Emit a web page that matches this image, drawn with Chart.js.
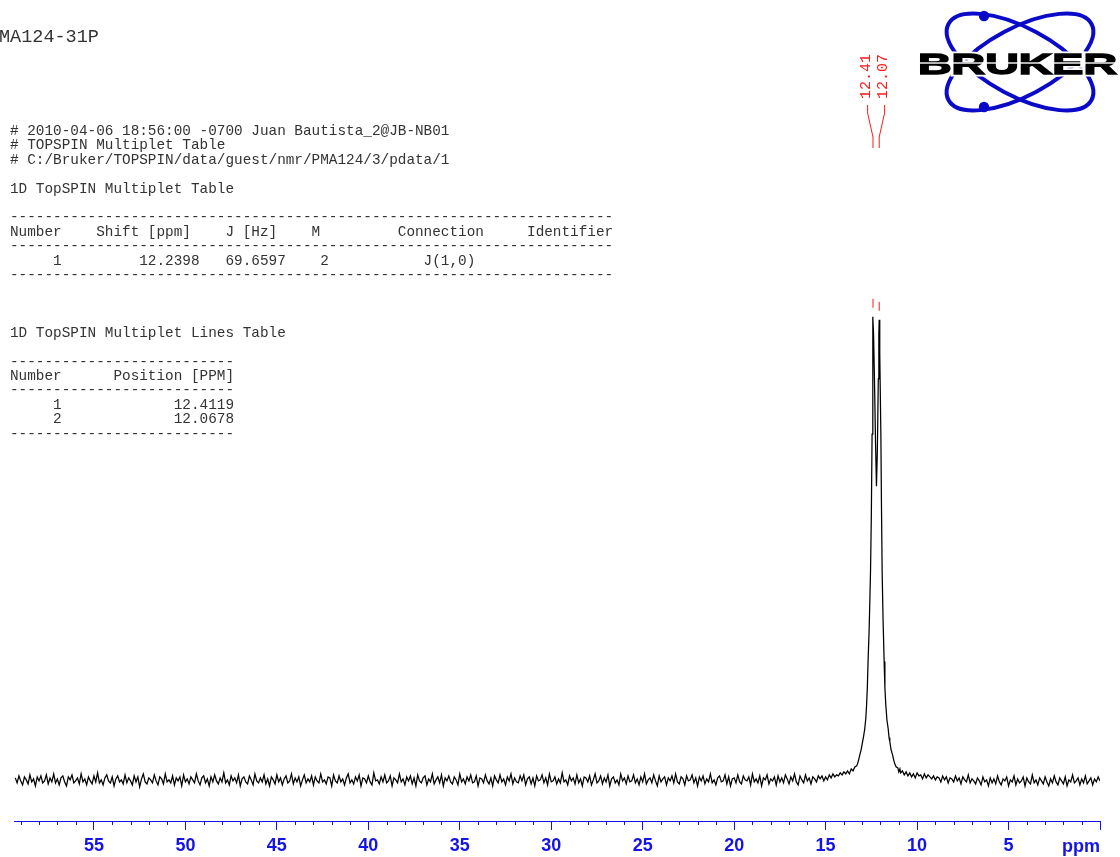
<!DOCTYPE html>
<html><head><meta charset="utf-8">
<script src="https://cdn.jsdelivr.net/npm/chart.js@4.4.0/dist/chart.umd.min.js"></script>
<style>
html,body{margin:0;padding:0;background:#fff;width:1120px;height:857px;overflow:hidden;position:relative}
#c{position:absolute;left:0;top:0}
.mono{font-family:"Liberation Mono","Courier New",monospace;color:#333;position:absolute;margin:0;white-space:pre}
#title{left:-1px;top:29px;font-size:18.5px;line-height:18.5px}
#info{left:10px;top:124px;font-size:14.37px;line-height:14.4px}
#logo{position:absolute;left:0;top:0}
</style></head><body>
<canvas id="c" width="1120" height="862"></canvas>
<div id="title" class="mono">MA124-31P</div>
<pre id="info" class="mono"></pre>
<svg id="logo" width="1120" height="130" xmlns="http://www.w3.org/2000/svg">
  <g transform="translate(1020,62)" fill="none" stroke="#0a0ac8" stroke-width="4">
    <ellipse cx="0" cy="0" rx="81" ry="34" transform="rotate(28)"/>
    <ellipse cx="0" cy="0" rx="81" ry="34" transform="rotate(-28)"/>
  </g>
  <circle cx="984" cy="16" r="5.2" fill="#0a0ac8"/>
  <circle cx="984" cy="107" r="5.2" fill="#0a0ac8"/>
  <text x="918" y="74" font-family="Liberation Sans" font-weight="bold" font-size="29" textLength="199" lengthAdjust="spacingAndGlyphs" fill="#fff" stroke="#fff" stroke-width="5">BRUKER</text>
  <text x="918" y="74" font-family="Liberation Sans" font-weight="bold" font-size="29" textLength="199" lengthAdjust="spacingAndGlyphs" fill="#000" stroke="#000" stroke-width="1.4">BRUKER</text>
  <rect x="916" y="62.3" width="203" height="1.4" fill="#fff"/>
</svg>
<script>
// ---------- table texts ----------
const headerLines = [
  "# 2010-04-06 18:56:00 -0700 Juan Bautista_2@JB-NB01",
  "# TOPSPIN Multiplet Table",
  "# C:/Bruker/TOPSPIN/data/guest/nmr/PMA124/3/pdata/1"
];
const multipletHeader = "Number    Shift [ppm]    J [Hz]    M         Connection     Identifier";
const multipletRows = ["     1         12.2398   69.6597    2           J(1,0)"];
const linesHeader = "Number      Position [PPM]";
const linesRows = ["     1             12.4119", "     2             12.0678"];

// ---------- spectrum data (ppm, intensity a.u.) ----------
const leftStart = 59.3, leftEnd = 13.9;
const leftNoise = [
 2,-3,4,-1,-5,3,0,-4,5,-2,1,-6,3,-1,4,-3,-1,5,-4,2,
 -2,6,-3,1,-5,2,4,-2,-6,3,0,5,-3,-1,2,-4,6,-2,1,-5,
 3,-1,-4,4,-2,7,-3,0,-5,2,5,-1,-3,3,-6,1,4,-2,0,-4,
 5,-3,2,-1,-5,4,-2,3,-7,1,6,-2,-4,2,0,-3,5,-1,-5,3,
 1,-4,6,-2,0,-3,4,-5,2,-1,3,-6,5,-2,1,-4,3,0,-3,6,
 -1,-5,2,4,-3,1,-6,3,-2,5,-1,-4,2,-2,7,-3,0,-5,4,-1,
 2,-3,5,-6,1,3,-2,-4,4,0,-5,6,-1,-3,2,-2,5,-4,1,-6,
 3,0,-4,5,-2,2,-5,1,4,-3,-1,6,-4,2,-2,3,-6,0,5,-3,
 1,-2,4,-5,3,-1,-3,6,-2,0,-4,3,2,-6,5,-1,-3,4,-2,1,
 -5,2,6,-3,0,-4,3,-1,5,-6,2,1,-3,4,-2,-5,7,-1,0,-4,
 3,-2,5,-3,-1,4,-6,2,0,-3,6,-2,1,-5,3,-1,4,-4,2,-6,
 5,-1,-3,2,4,-5,1,-2,6,-4,0,3,-3,5,-6,2,-1,4,-2,-4,
 3,0,-5,6,-2,1,-4,3,-1,5,-3,-2,4,-6,2,1,-3,5,-1,-4,
 2,-6,4,0,-3,5,-2,1,-5,3,-1,6,-4,2,-2,-3,4,-1,5,-5,
 1,3,-4,2,-6,4,-1,0,5,-3,2,-5,6,-2,-1,3,-4,1,-3,7,
 -2,0,-5,4,-1,2,-4,5,-3,1,-6,3,2,-2,4,-5,0,6,-3,-1,
 4,-4,2,-2,5,-6,1,3,-3,0,-5,6,-1,2,-4,4,-2,-1,5,-3,
 1,-5,3,-2,6,-4,0,2,-3,5,-1,-6,4,-2,1,3,-5,2,-1,4,
 -3,6,-2,-4,3,1,-5,4,-1,0,5,-3,2,-6,3,-1,4,-4,1,-2,
 6,-3,0,-5,2,4,-2,-1,5,-4,3,-6,1,2,-3,5,-2,-4,4,0,
 -1,3,-5,6,-2,1,-3,4,-6,2,0,5,-4,1,-1,3,-5,4,-2,2,
 -3,5,1,-4,3,-1,6,-2,-5,4,0,-3,5,-1,2,-4,3,1,-2,4,
 1,4,-1,3,0,5,2,6,3,5,4,7,5,8,6
];
const peakPpm = [13.8,13.7,13.6,13.5,13.4,13.3,13.24,13.18,13.13,13.06,12.98,12.92,12.86,12.80,12.76,12.72,12.68,12.62,12.545,12.50,12.46,12.43,12.41,12.38,12.33,12.27,12.22,12.17,12.12,12.09,12.07,12.04,11.98,11.95,11.91,11.86,11.80,11.76,11.71,11.65,11.58,11.53,11.49,11.42,11.34,11.28,11.22,11.15,11.05,11.0,10.94,10.9];
const peakInt = [9,6,11,9,13,14,17,21,25,30,38,44,51,62,75,92,118,150,208,265,345,415,462,445,400,335,293,330,400,445,459,425,345,280,208,160,118,92,75,60,51,42,38,30,25,20,16,13,12,8,11,7];
const rightStart = 10.8, rightEnd = 0.0;
const rightNoise = [
 9,5,8,4,7,3,6,2,7,4,5,1,6,2,5,3,1,4,0,3,
 2,-2,4,0,3,-3,2,1,-2,4,-1,2,-4,3,0,-2,5,-3,1,-1,
 -4,2,-1,-5,3,-2,0,-6,2,-3,1,-4,4,-2,-5,1,-1,3,-6,0,
 -2,4,-5,1,-3,-1,3,-6,2,-2,-4,5,-3,0,-5,2,-1,-4,3,-2,
 -6,1,-3,4,-2,-5,2,-1,-4,3,-6,0,-2,5,-3,-1,2,-5,1,-3,
 4,-4,-1,2,-5,1,-2,3,-1
];

// ---------- peak annotations ----------
const peakLabels = ["12.41", "12.07"];
const peakPositions = [12.41, 12.07];
const peakHeights = [462, 459];

// ---------- axis ----------
const axisMin = 0, axisMax = 59.37, majorStep = 5, minorStep = 1;
const axisUnit = "ppm";

// build text block
const dash70 = "-".repeat(70), dash26 = "-".repeat(26);
const infoLines = [...headerLines, "", "1D TopSPIN Multiplet Table", "", dash70, multipletHeader, dash70, ...multipletRows, dash70, "", "", "", "1D TopSPIN Multiplet Lines Table", "", dash26, linesHeader, dash26, ...linesRows, dash26];
document.getElementById('info').textContent = infoLines.join("\n");

// build points
const pts = [];
leftNoise.forEach((v,i)=>pts.push({x: leftStart - i*(leftStart-leftEnd)/(leftNoise.length-1), y: v}));
peakPpm.forEach((p,i)=>pts.push({x: p, y: peakInt[i]}));
rightNoise.forEach((v,i)=>pts.push({x: rightStart - i*(rightStart-rightEnd)/(rightNoise.length-1), y: v}));

const BLUE = '#1414e6', RED = '#ff1a1a';

const extras = {
  id: 'extras',
  afterDraw(chart){
    const {ctx, scales:{x, y}, chartArea} = chart;
    ctx.save();
    // minor ticks
    ctx.strokeStyle = BLUE; ctx.lineWidth = 1;
    ctx.beginPath();
    for (let v = Math.ceil(axisMin); v <= axisMax; v += minorStep) {
      if (v % majorStep === 0) continue;
      const px = Math.round(x.getPixelForValue(v)) + 0.5;
      ctx.moveTo(px, chartArea.bottom); ctx.lineTo(px, chartArea.bottom + 4);
    }
    ctx.stroke();
    // unit label
    ctx.fillStyle = BLUE;
    ctx.font = 'bold 18px "Liberation Sans", Arial, sans-serif';
    ctx.textAlign = 'right'; ctx.textBaseline = 'alphabetic';
    ctx.fillText(axisUnit, x.getPixelForValue(0), chartArea.bottom + 31);
    // peak labels
    const px = peakPositions.map(p => x.getPixelForValue(p));
    const mid = (px[0] + px[px.length-1]) / 2;
    const spacing = 17;
    ctx.strokeStyle = RED; ctx.fillStyle = RED;
    peakLabels.forEach((lab, i) => {
      const lx = mid + (i - (peakLabels.length-1)/2) * spacing;
      ctx.beginPath();
      ctx.moveTo(lx, 105); ctx.lineTo(lx, 113); ctx.lineTo(px[i], 137); ctx.lineTo(px[i], 148);
      const py = y.getPixelForValue(peakHeights[i]);
      ctx.moveTo(px[i], py - 18); ctx.lineTo(px[i], py - 9);
      ctx.stroke();
      ctx.save();
      ctx.translate(lx - 1.5, 99);
      ctx.rotate(-Math.PI/2);
      ctx.font = '15px "Liberation Mono", monospace';
      ctx.textAlign = 'left'; ctx.textBaseline = 'middle';
      ctx.fillText(lab, 0, 0);
      ctx.restore();
    });
    ctx.restore();
  }
};

new Chart(document.getElementById('c'), {
  type: 'line',
  data: { datasets: [{ data: pts, borderColor: '#000', borderWidth: 1.25, pointRadius: 0, tension: 0, fill: false }] },
  options: {
    responsive: false, animation: false, events: [], parsing: false,
    layout: { padding: { left: 14, right: 20, top: 0, bottom: 0.4 } },
    plugins: { legend: { display: false }, tooltip: { enabled: false } },
    scales: {
      x: {
        type: 'linear', reverse: true, min: axisMin, max: axisMax,
        border: { display: true, color: BLUE, width: 1 },
        grid: { display: true, drawOnChartArea: false, drawTicks: true, tickLength: 9, tickColor: BLUE, tickWidth: 1 },
        ticks: { stepSize: majorStep, includeBounds: false, autoSkip: false, maxRotation: 0, padding: 5, color: BLUE,
          font: { family: '"Liberation Sans", Arial, sans-serif', size: 18, weight: 'bold' },
          callback: v => v === 0 ? '' : String(v) }
      },
      y: { display: false, min: -41, max: 778 }
    }
  },
  plugins: [extras]
});
</script>
</body></html>
